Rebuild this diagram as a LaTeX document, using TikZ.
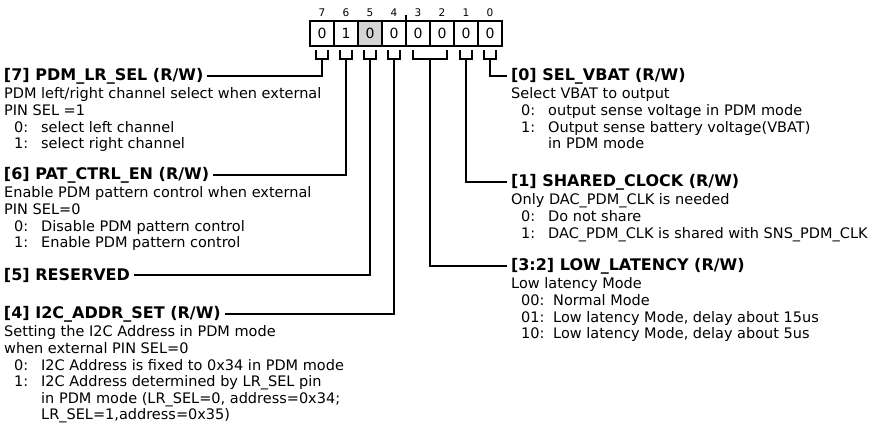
\documentclass[tikz,border=0pt]{standalone}
\usepackage{fontspec}
\setmainfont{DejaVu Sans}
\usetikzlibrary{positioning,calc}
\tikzset{
  cell/.style={
    draw,
    line width=1.7pt,
    minimum width=24pt,
    minimum height=25pt,
    inner sep=0pt,
    outer sep=0pt,
    font=\fontsize{14}{14}\selectfont
  },
  rsvcell/.style={cell, fill=black!17},
  bitnum/.style={inner sep=0pt, font=\fontsize{10.5}{10.5}\selectfont},
  fieldhead/.style={inner sep=0pt, outer xsep=4pt, anchor=west,
    font=\fontsize{16}{16}\selectfont\bfseries},
  fieldbody/.style={inner sep=0pt, align=left, anchor=north west,
    font=\fontsize{14.5}{16.6}\selectfont},
  lead/.style={line width=1.8pt},
  brace/.style={line width=1.8pt}
}
\newcommand{\opt}[1]{\hspace*{10pt}\makebox[27pt][l]{#1}}
\newcommand{\wopt}[1]{\hspace*{10pt}\makebox[32pt][l]{#1}}

\begin{document}
\begin{tikzpicture}[x=1pt, y=-1pt]
\useasboundingbox[fill=white] (0,0) rectangle (877,439);

% register bits
\node[cell] (c7) at (322,33.5) {0};
\node[cell, right=0pt of c7] (c6) {1};
\node[rsvcell, right=0pt of c6] (c5) {0};
\node[cell, right=0pt of c5] (c4) {0};
\node[cell, right=0pt of c4] (c3) {0};
\node[cell, right=0pt of c3] (c2) {0};
\node[cell, right=0pt of c2] (c1) {0};
\node[cell, right=0pt of c1] (c0) {0};

\node[bitnum, above=4.5pt of c7] (n7) {7};
\node[bitnum, above=4.5pt of c6] (n6) {6};
\node[bitnum, above=4.5pt of c5] (n5) {5};
\node[bitnum, above=4.5pt of c4] (n4) {4};
\node[bitnum, above=4.5pt of c3] (n3) {3};
\node[bitnum, above=4.5pt of c2] (n2) {2};
\node[bitnum, above=4.5pt of c1] (n1) {1};
\node[bitnum, above=4.5pt of c0] (n0) {0};
\draw[line width=1.2pt] (c4.north east) -- ++(0,-6);

% brackets under the bits
\draw[brace] ($(c7.south)+(-6,4)$) -- ++(0,9) -- ++(12,0) -- ++(0,-9);
\draw[brace] ($(c6.south)+(-6,4)$) -- ++(0,9) -- ++(12,0) -- ++(0,-9);
\draw[brace] ($(c5.south)+(-6,4)$) -- ++(0,9) -- ++(12,0) -- ++(0,-9);
\draw[brace] ($(c4.south)+(-6,4)$) -- ++(0,9) -- ++(12,0) -- ++(0,-9);
\draw[brace] ($(c3.south)+(-5,4)$) -- ++(0,9) -- ($(c2.south)+(5,13)$) -- ++(0,-9);
\draw[brace] ($(c1.south)+(-6,4)$) -- ++(0,9) -- ++(12,0) -- ++(0,-9);
\draw[brace] ($(c0.south)+(-6,4)$) -- ++(0,9) -- ++(12,0) -- ++(0,-9);
\coordinate (t7) at ($(c7.south)+(0,13)$);
\coordinate (t6) at ($(c6.south)+(0,13)$);
\coordinate (t5) at ($(c5.south)+(0,13)$);
\coordinate (t4) at ($(c4.south)+(0,13)$);
\coordinate (t32) at ($(c3.south east)+(0,13)$);
\coordinate (t1) at ($(c1.south)+(0,13)$);
\coordinate (t0) at ($(c0.south)+(0,13)$);

% left fields
\node[fieldhead] (h7) at (0,76) {[7] PDM\_LR\_SEL (R/W)};
\node[fieldbody] (b7) at (4,87.1) {\strut PDM left/right channel select when external\\
  PIN SEL =1\\
  \opt{0:}select left channel\\
  \opt{1:}select right channel};
\node[fieldhead] (h6) at (0,175) {[6] PAT\_CTRL\_EN (R/W)};
\node[fieldbody] (b6) at (4,186.1) {\strut Enable PDM pattern control when external\\
  PIN SEL=0\\
  \opt{0:}Disable PDM pattern control\\
  \opt{1:}Enable PDM pattern control};
\node[fieldhead] (h5) at (0,275) {[5] RESERVED};
\node[fieldhead] (h4) at (0,314) {[4] I2C\_ADDR\_SET (R/W)};
\node[fieldbody] (b4) at (4,325.1) {\strut Setting the I2C Address in PDM mode\\
  when external PIN SEL=0\\
  \opt{0:}I2C Address is fixed to 0x34 in PDM mode\\
  \opt{1:}I2C Address determined by LR\_SEL pin\\
  \opt{}in PDM mode (LR\_SEL=0, address=0x34;\\
  \opt{}LR\_SEL=1,address=0x35)};

% right fields
\node[fieldhead] (h0) at (507,76) {[0] SEL\_VBAT (R/W)};
\node[fieldbody] (b0) at (511,87.1) {\strut Select VBAT to output\\
  \opt{0:}output sense voltage in PDM mode\\
  \opt{1:}Output sense battery voltage(VBAT)\\
  \opt{}in PDM mode};
\node[fieldhead] (h1) at (507,182) {[1] SHARED\_CLOCK (R/W)};
\node[fieldbody] (b1) at (511,193.1) {\strut Only DAC\_PDM\_CLK is needed\\
  \opt{0:}Do not share\\
  \opt{1:}DAC\_PDM\_CLK is shared with SNS\_PDM\_CLK};
\node[fieldhead] (h32) at (507,266) {[3:2] LOW\_LATENCY (R/W)};
\node[fieldbody] (b32) at (511,277.1) {\strut Low latency Mode\\
  \wopt{00:}Normal Mode\\
  \wopt{01:}Low latency Mode, delay about 15us\\
  \wopt{10:}Low latency Mode, delay about 5us};

% leaders
\draw[lead] (t7) |- (h7.east);
\draw[lead] (t6) |- (h6.east);
\draw[lead] (t5) |- (h5.east);
\draw[lead] (t4) |- (h4.east);
\draw[lead] (t0) |- (h0.west);
\draw[lead] (t1) |- (h1.west);
\draw[lead] (t32) |- (h32.west);
\end{tikzpicture}
\end{document}
